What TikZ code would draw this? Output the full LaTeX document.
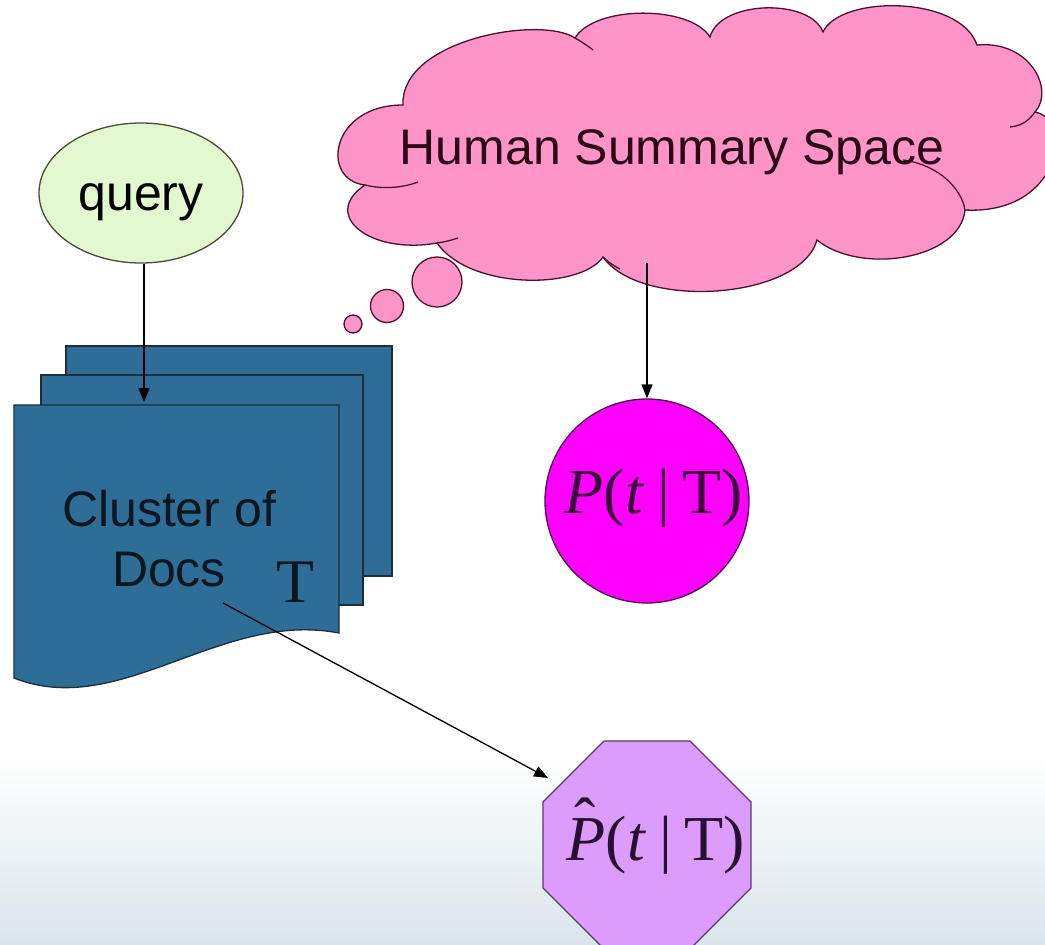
\documentclass[tikz,border=0pt]{standalone}
\usepackage{fontspec}
\setmainfont{Liberation Serif}
\newfontfamily\arialf{Liberation Sans}
\usetikzlibrary{shapes.geometric,arrows.meta}
\definecolor{bgblue}{HTML}{DAE5EB}
\definecolor{qfill}{HTML}{E2F9CF}
\definecolor{qline}{HTML}{4A4A3A}
\definecolor{docfill}{HTML}{2E6E96}
\definecolor{docline}{HTML}{1A2E3E}
\definecolor{doctext}{HTML}{0A1620}
\definecolor{cloudfill}{HTML}{FF94C8}
\definecolor{cloudline}{HTML}{4A1030}
\definecolor{cloudtext}{HTML}{2A0818}
\definecolor{pfill}{HTML}{FF00FF}
\definecolor{pline}{HTML}{4A104A}
\definecolor{ptext}{HTML}{3A0A3A}
\definecolor{ofill}{HTML}{DC9CFC}
\definecolor{oline}{HTML}{5A3A6A}
\definecolor{otext}{HTML}{2A1030}
\newcommand\myhatP{\makebox[0pt][l]{\hspace{0.12em}\raisebox{0.27em}{ˆ}}\textit{P}}
\tikzset{
  conn/.style={draw=black, line width=1.3pt, -{Triangle[length=14pt,width=11pt]}},
  docpage/.style={fill=docfill, draw=docline, line width=1.3pt},
  cloudpart/.style={fill=cloudfill, draw=cloudline, line width=1.3pt},
  stub/.style={draw=cloudline, line width=1.3pt},
  sanstext/.style={font={\arialf\fontsize{50}{60}\selectfont}, inner sep=0pt},
  serifbig/.style={font={\fontsize{64}{72}\selectfont}, inner sep=0pt},
}
\begin{document}
\begin{tikzpicture}[x=1pt,y=-1pt]
\useasboundingbox (0,0) rectangle (1045,945);
\shade[top color=white, bottom color=bgblue] (0,755) rectangle (1045,945);

% query
\node[ellipse, draw=qline, fill=qfill, line width=1.3pt, minimum width=204pt, minimum height=140pt, inner sep=0pt] (query) at (141,193) {};
\node[sanstext, anchor=base] (querytxt) at (141,210) {query};

% documents
\path[docpage] (66,346) rectangle (392,576);
\path[docpage] (41,375) rectangle (363,605);
\path[docpage] (14,405) -- (339,405) -- (339,633) .. controls (220,610) and (120,720) .. (14,678) -- cycle;
\node[sanstext, align=center, text=doctext] (docstxt) at (169,539) {Cluster of\\Docs};
\node[font={\fontsize{62}{70}\selectfont}, inner sep=0pt, anchor=base, text=doctext] (tlabel) at (295,602) {T};
\coordinate (doctop) at (144,402);
\coordinate (docsout) at (223,603);

% cloud
\path[cloudpart] (365,185) .. controls (320,180) and (330,105) .. (403,105)
  .. controls (400,40) and (540,15) .. (575,38)
  .. controls (595,5) and (690,5) .. (710,37)
  .. controls (720,0) and (810,-2) .. (823,32)
  .. controls (840,-5) and (960,-5) .. (977,45)
  .. controls (1030,40) and (1055,90) .. (1035,112)
  .. controls (1075,120) and (1060,215) .. (965,210)
  .. controls (960,260) and (860,275) .. (817,240)
  .. controls (800,300) and (640,310) .. (603,257)
  .. controls (580,290) and (470,290) .. (437,243)
  .. controls (370,255) and (320,215) .. (365,185) -- cycle;
\draw[stub] (365,185) .. controls (385,190) and (405,187) .. (418,182);
\draw[stub] (437,243) .. controls (445,242) and (452,240) .. (458,238);
\draw[stub] (603,257) .. controls (608,262) and (614,266) .. (620,269);
\draw[stub] (575,38) .. controls (582,42) and (588,46) .. (593,50);
\draw[stub] (965,210) .. controls (962,190) and (940,165) .. (903,160);
\draw[stub] (1035,112) .. controls (1028,122) and (1020,126) .. (1010,127);
\node[sanstext, anchor=base, text=cloudtext] (cloudtxt) at (672,164) {Human Summary Space};
\node[circle, cloudpart, minimum size=50pt, inner sep=0pt] (bub1) at (437,282) {};
\node[circle, cloudpart, minimum size=33pt, inner sep=0pt] (bub2) at (387,306) {};
\node[circle, cloudpart, minimum size=18pt, inner sep=0pt] (bub3) at (353,324) {};
\coordinate (cloudout) at (647,263);

% P(t|T)
\node[circle, fill=pfill, draw=pline, line width=1.3pt, minimum size=204pt, inner sep=0pt] (pcirc) at (647,501) {};
\node[serifbig, anchor=base, text=ptext] (ptxt) at (654,513) {\textit{P}(\textit{t}\hspace{.2em}|\hspace{.2em}T)};

% hat P(t|T)
\node[regular polygon, regular polygon sides=8, fill=ofill, draw=oline, line width=1.3pt, minimum size=225pt, inner sep=0pt] (oct) at (647,845) {};
\node[serifbig, anchor=base, text=otext] (otxt) at (656,860) {\myhatP(\textit{t}\hspace{.2em}|\hspace{.2em}T)};
\coordinate (octin) at (548,778);

% connectors
\draw[conn] (query.south -| doctop) -- (doctop);
\draw[conn] (cloudout) -- (pcirc.north);
\draw[conn] (docsout) -- (octin);
\end{tikzpicture}
\end{document}
